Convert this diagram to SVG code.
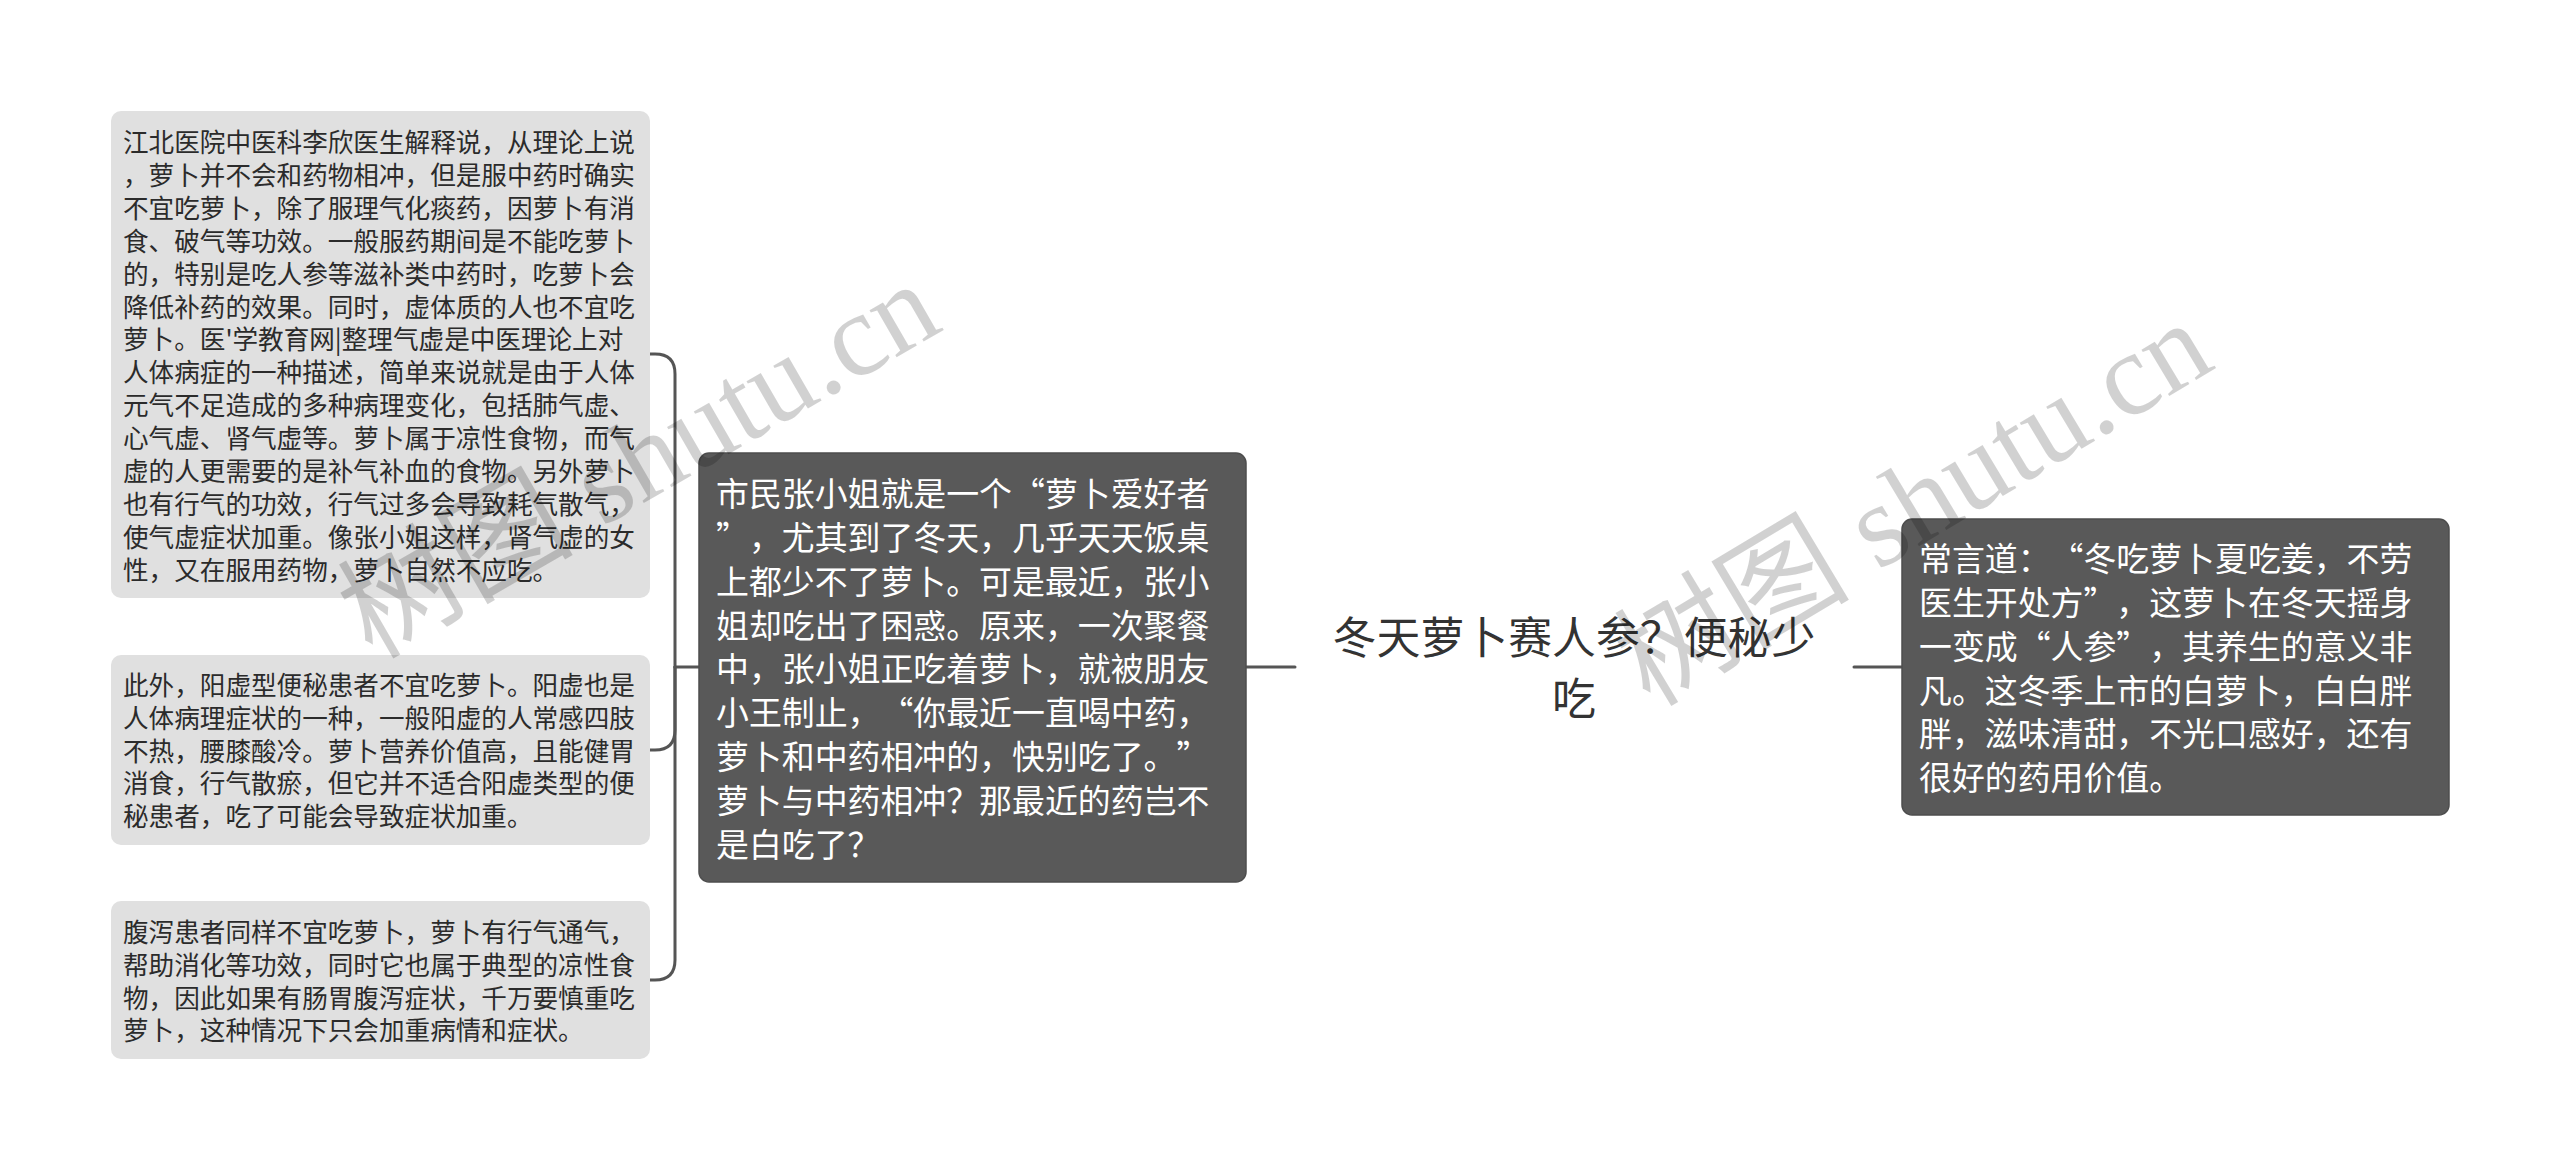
<svg xmlns="http://www.w3.org/2000/svg" width="2560" height="1169" viewBox="0 0 2560 1169">
<defs>
<style>
.bg{fill:#ffffff}
.light{fill:#e0e0e0}
.dark{fill:#595959;stroke:#4d4d4d;stroke-width:1.5}
.t{font-family:"Noto Sans CJK SC","Noto Sans",sans-serif;text-spacing-trim:space-all}
.tl{font-size:25.6px;fill:#2b2b2b}
.td{font-size:32.9px;fill:#ffffff}
.root{font-size:43.9px;fill:#333333}
.conn{fill:none;stroke:#555555;stroke-width:3;stroke-linecap:round}
.wm{font-family:"Liberation Serif","Noto Sans CJK SC",serif;font-size:118px;fill:#000000;fill-opacity:0.18}
</style>
</defs>
<rect class="bg" x="0" y="0" width="2560" height="1169"/>

<g id="connectors">
<path class="conn" d="M1246,667 H1295"/>
<path class="conn" d="M1854,667 H1902"/>
<path class="conn" d="M700,667 H675"/>
<path class="conn" d="M675,667 V374 Q675,354 655,354 H650"/>
<path class="conn" d="M675,667 V730 Q675,750 655,750 H650"/>
<path class="conn" d="M675,667 V960 Q675,980 655,980 H650"/>
</g>

<g id="root">
<text class="t root" text-anchor="middle"><tspan x="1574" y="653.7">冬天萝卜赛人参？便秘少</tspan><tspan x="1574" y="714.7">吃</tspan></text>
</g>

<g id="node-center">
<rect class="dark" x="699" y="453" width="547" height="429" rx="10"/>
<text class="t td"><tspan x="716" y="505.8">市民张小姐就是一个“萝卜爱好者</tspan><tspan x="716" dy="43.9">”，尤其到了冬天，几乎天天饭桌</tspan><tspan x="716" dy="43.9">上都少不了萝卜。可是最近，张小</tspan><tspan x="716" dy="43.9">姐却吃出了困惑。原来，一次聚餐</tspan><tspan x="716" dy="43.9">中，张小姐正吃着萝卜，就被朋友</tspan><tspan x="716" dy="43.9">小王制止，“你最近一直喝中药，</tspan><tspan x="716" dy="43.9">萝卜和中药相冲的，快别吃了。”</tspan><tspan x="716" dy="43.9">萝卜与中药相冲？那最近的药岂不</tspan><tspan x="716" dy="43.9">是白吃了？</tspan></text>
</g>

<g id="node-right">
<rect class="dark" x="1902" y="519" width="547" height="296" rx="10"/>
<text class="t td"><tspan x="1919" y="570.8">常言道：“冬吃萝卜夏吃姜，不劳</tspan><tspan x="1919" dy="43.9">医生开处方”，这萝卜在冬天摇身</tspan><tspan x="1919" dy="43.9">一变成“人参”，其养生的意义非</tspan><tspan x="1919" dy="43.9">凡。这冬季上市的白萝卜，白白胖</tspan><tspan x="1919" dy="43.9">胖，滋味清甜，不光口感好，还有</tspan><tspan x="1919" dy="43.9">很好的药用价值。</tspan></text>
</g>

<g id="node-left-1">
<rect class="light" x="111" y="111" width="539" height="487" rx="10"/>
<text class="t tl"><tspan x="123" y="152">江北医院中医科李欣医生解释说，从理论上说</tspan><tspan x="123" dy="32.9">，萝卜并不会和药物相冲，但是服中药时确实</tspan><tspan x="123" dy="32.9">不宜吃萝卜，除了服理气化痰药，因萝卜有消</tspan><tspan x="123" dy="32.9">食、破气等功效。一般服药期间是不能吃萝卜</tspan><tspan x="123" dy="32.9">的，特别是吃人参等滋补类中药时，吃萝卜会</tspan><tspan x="123" dy="32.9">降低补药的效果。同时，虚体质的人也不宜吃</tspan><tspan x="123" dy="32.9">萝卜。医'学教育网|整理气虚是中医理论上对</tspan><tspan x="123" dy="32.9">人体病症的一种描述，简单来说就是由于人体</tspan><tspan x="123" dy="32.9">元气不足造成的多种病理变化，包括肺气虚、</tspan><tspan x="123" dy="32.9">心气虚、肾气虚等。萝卜属于凉性食物，而气</tspan><tspan x="123" dy="32.9">虚的人更需要的是补气补血的食物。另外萝卜</tspan><tspan x="123" dy="32.9">也有行气的功效，行气过多会导致耗气散气，</tspan><tspan x="123" dy="32.9">使气虚症状加重。像张小姐这样，肾气虚的女</tspan><tspan x="123" dy="32.9">性，又在服用药物，萝卜自然不应吃。</tspan></text>
</g>

<g id="node-left-2">
<rect class="light" x="111" y="655" width="539" height="190" rx="10"/>
<text class="t tl"><tspan x="123" y="694.7">此外，阳虚型便秘患者不宜吃萝卜。阳虚也是</tspan><tspan x="123" dy="32.9">人体病理症状的一种，一般阳虚的人常感四肢</tspan><tspan x="123" dy="32.9">不热，腰膝酸冷。萝卜营养价值高，且能健胃</tspan><tspan x="123" dy="32.9">消食，行气散瘀，但它并不适合阳虚类型的便</tspan><tspan x="123" dy="32.9">秘患者，吃了可能会导致症状加重。</tspan></text>
</g>

<g id="node-left-3">
<rect class="light" x="111" y="901" width="539" height="158" rx="10"/>
<text class="t tl"><tspan x="123" y="941.7">腹泻患者同样不宜吃萝卜，萝卜有行气通气，</tspan><tspan x="123" dy="32.9">帮助消化等功效，同时它也属于典型的凉性食</tspan><tspan x="123" dy="32.9">物，因此如果有肠胃腹泻症状，千万要慎重吃</tspan><tspan x="123" dy="32.9">萝卜，这种情况下只会加重病情和症状。</tspan></text>
</g>

<g id="watermarks">
<text class="wm" transform="translate(372,660) rotate(-30)">树图 shutu.cn</text>
<text class="wm" transform="translate(1650,708) rotate(-31)">树图 shutu.cn</text>
</g>
</svg>
